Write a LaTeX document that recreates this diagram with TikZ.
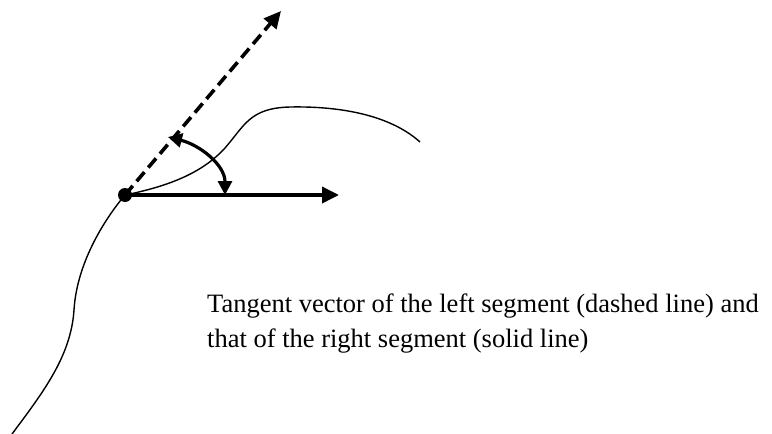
\documentclass[tikz,border=0pt]{standalone}
\usepackage{fontspec}
\setmainfont{Liberation Serif}
\usetikzlibrary{arrows.meta}

\begin{document}
\begin{tikzpicture}[x=1pt, y=-1pt,
    vec/.style={line width=3.6pt, -{Triangle[length=17pt, width=16pt]}},
    turn/.style={line width=3.2pt, {Triangle[length=14pt, width=14pt]}-{Triangle[length=14pt, width=14pt]}},
    seg/.style={line width=1.4pt}]
  \useasboundingbox (0,0) rectangle (772,434);
  % joint of the two segments
  \node[circle, fill, inner sep=0pt, minimum size=14pt] (P) at (125,195) {};
  \coordinate (Tl) at (281,11);
  \coordinate (Tr) at (339,195);
  \coordinate (A1) at (168,137);
  \coordinate (A2) at (225,195);

  % left and right segments
  \draw[seg] (12,434) .. controls (45,390) and (71,355) .. (74,310)
                      .. controls (77,260) and (108,215) .. (P.center);
  \draw[seg] (P.center) .. controls (175,185) and (205,170) .. (225,148)
                        .. controls (245,125) and (250,108) .. (290,107)
                        .. controls (340,106) and (390,115) .. (420,142);

  % tangent vectors
  \draw[vec, dash pattern=on 12pt off 6pt] (P.center) -- (Tl);
  \draw[vec] (P.center) -- (Tr);
  \draw[turn] (A1) .. controls (200,145) and (225,165) .. (A2);

  \node[anchor=base west, align=left, inner sep=0pt,
        font=\fontsize{26.5}{35}\selectfont] (note) at (207,347)
    {Tangent vector of the left segment (dashed line) and\\
     that of the right segment (solid line)};
\end{tikzpicture}
\end{document}
